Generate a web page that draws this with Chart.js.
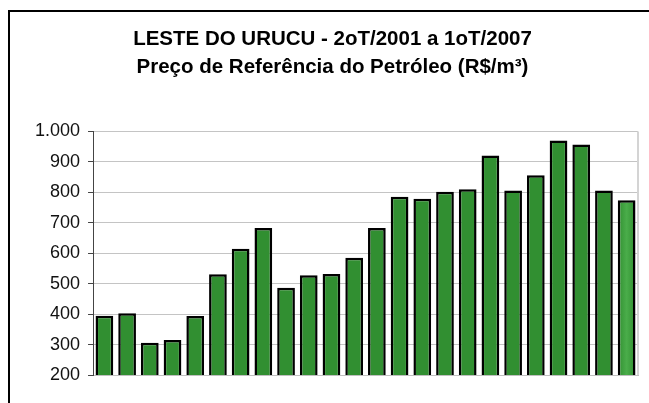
<!DOCTYPE html>
<html>
<head>
<meta charset="utf-8">
<script src="https://cdn.jsdelivr.net/npm/chart.js@4"></script>
<style>
  html, body { margin: 0; padding: 0; background: #fff; }
  #wrap { position: relative; width: 649px; height: 403px; overflow: hidden; }
  #frame { position: absolute; left: 8px; top: 10px; width: 700px; height: 500px;
           border-left: 2px solid #000; border-top: 2px solid #000; pointer-events: none; }
  canvas { position: absolute; left: 0; top: 0; }
</style>
</head>
<body>
<div id="wrap">
  <canvas id="chart" width="649" height="403"></canvas>
  <div id="frame"></div>
</div>
<script>
// Leste do Urucu — preço de referência do petróleo por trimestre

const TITLE_LINES = [
  'LESTE DO URUCU - 2oT/2001 a 1oT/2007',
  'Preço de Referência do Petróleo (R$/m³)'
];

const QUARTERS = [
  '2T/2001', '3T/2001', '4T/2001',
  '1T/2002', '2T/2002', '3T/2002', '4T/2002',
  '1T/2003', '2T/2003', '3T/2003', '4T/2003',
  '1T/2004', '2T/2004', '3T/2004', '4T/2004',
  '1T/2005', '2T/2005', '3T/2005', '4T/2005',
  '1T/2006', '2T/2006', '3T/2006', '4T/2006',
  '1T/2007'
];

const PRICES = [
  395, 403, 306, 315, 394, 531, 615, 683,
  487, 528, 532, 585, 683, 786, 779, 802,
  810, 921, 806, 856, 970, 957, 806, 774
];

const Y_MIN = 200, Y_MAX = 1000, Y_STEP = 100;

const FONT = 'Liberation Sans, Arial, sans-serif';

// light gray right edge of the plot area
const plotEdge = {
  id: 'plotEdge',
  afterDraw(chart) {
    const { ctx, chartArea: a } = chart;
    ctx.save();
    ctx.strokeStyle = '#d4d4d4';
    ctx.lineWidth = 2;
    ctx.beginPath();
    ctx.moveTo(a.right, a.top);
    ctx.lineTo(a.right, a.bottom);
    ctx.stroke();
    ctx.restore();
  }
};

// horizontal shading on each bar, like the spreadsheet fill
const barShade = {
  id: 'barShade',
  beforeDatasetsDraw(chart) {
    const ctx = chart.ctx;
    chart.getDatasetMeta(0).data.forEach(bar => {
      const x0 = bar.x - bar.width / 2, x1 = bar.x + bar.width / 2;
      const g = ctx.createLinearGradient(x0, 0, x1, 0);
      g.addColorStop(0, '#318f31');
      g.addColorStop(0.5, '#4aad4a');
      g.addColorStop(1, '#318f31');
      bar.options.backgroundColor = g;
    });
  }
};

new Chart(document.getElementById('chart'), {
  type: 'bar',
  data: {
    labels: QUARTERS,
    datasets: [{
      data: PRICES,
      backgroundColor: '#3c9e3c',
      borderColor: '#000',
      borderWidth: 2.5,
      borderSkipped: false,
      barPercentage: 0.78,
      categoryPercentage: 1
    }]
  },
  options: {
    responsive: false,
    animation: false,
    layout: { padding: { left: 27, right: 11, top: 0, bottom: 20 } },
    plugins: {
      legend: { display: false },
      tooltip: { enabled: false },
      title: {
        display: true,
        text: TITLE_LINES,
        color: '#000',
        font: { family: FONT, size: 20.5, weight: 'bold', lineHeight: 1.39 },
        padding: { top: 25, bottom: 49.5 }
      }
    },
    scales: {
      x: {
        ticks: { display: false },
        grid: { display: false },
        border: { color: '#c0c0c0', width: 1 }
      },
      y: {
        min: Y_MIN, max: Y_MAX,
        ticks: {
          stepSize: Y_STEP,
          color: '#111',
          padding: 8,
          font: { family: FONT, size: 18 },
          callback: v => v.toLocaleString('pt-BR')
        },
        grid: { color: '#c4c4c4', tickColor: '#444', tickLength: 5, lineWidth: 1 },
        border: { color: '#444', width: 1 }
      }
    }
  },
  plugins: [plotEdge, barShade]
});
</script>
</body>
</html>
